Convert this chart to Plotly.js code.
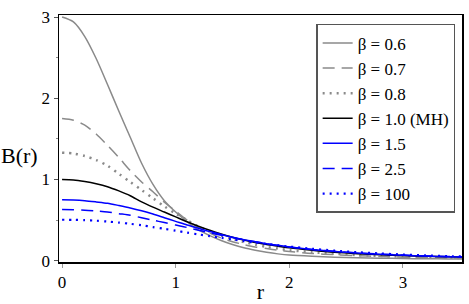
<!DOCTYPE html>
<html>
<head>
<meta charset="utf-8">
<script src="https://cdn.plot.ly/plotly-3.0.1.min.js"></script>
<style>html,body{margin:0;padding:0;background:#fff;}#chart{width:469px;height:304px;}</style>
</head>
<body>
<div id="chart"></div>
<script>
const r = [0, 0.1, 0.2, 0.3, 0.4, 0.5, 0.6, 0.7, 0.8, 0.9, 1.0, 1.1, 1.2, 1.3, 1.4, 1.5, 1.6, 1.7, 1.8, 1.9, 2.0, 2.2, 2.4, 2.6, 2.8, 3.0, 3.2, 3.4, 3.6];
const b06  = [3.0, 2.94, 2.76, 2.49, 2.17, 1.84, 1.52, 1.20, 0.94, 0.74, 0.60, 0.48, 0.38, 0.31, 0.25, 0.20, 0.16, 0.13, 0.105, 0.085, 0.07, 0.055, 0.045, 0.038, 0.032, 0.028, 0.025, 0.022, 0.02];
const b07  = [1.75, 1.73, 1.67, 1.56, 1.42, 1.27, 1.11, 0.97, 0.85, 0.72, 0.61, 0.50, 0.41, 0.34, 0.28, 0.235, 0.20, 0.17, 0.15, 0.13, 0.115, 0.09, 0.075, 0.063, 0.053, 0.045, 0.04, 0.035, 0.03];
const b08  = [1.33, 1.32, 1.29, 1.24, 1.17, 1.07, 0.97, 0.87, 0.77, 0.67, 0.58, 0.50, 0.42, 0.36, 0.31, 0.27, 0.23, 0.20, 0.17, 0.15, 0.13, 0.105, 0.085, 0.07, 0.06, 0.05, 0.043, 0.037, 0.032];
const b10  = [1.0, 0.995, 0.975, 0.948, 0.912, 0.86, 0.80, 0.725, 0.66, 0.60, 0.54, 0.48, 0.425, 0.375, 0.33, 0.29, 0.255, 0.225, 0.20, 0.18, 0.16, 0.13, 0.105, 0.088, 0.075, 0.064, 0.056, 0.049, 0.044];
const b15  = [0.75, 0.748, 0.74, 0.725, 0.708, 0.68, 0.65, 0.615, 0.575, 0.53, 0.485, 0.44, 0.40, 0.36, 0.325, 0.29, 0.26, 0.235, 0.21, 0.19, 0.17, 0.14, 0.115, 0.095, 0.08, 0.068, 0.058, 0.05, 0.045];
const b25  = [0.63, 0.628, 0.622, 0.612, 0.60, 0.58, 0.56, 0.53, 0.50, 0.47, 0.44, 0.41, 0.375, 0.345, 0.315, 0.285, 0.26, 0.235, 0.21, 0.19, 0.17, 0.14, 0.117, 0.097, 0.082, 0.07, 0.06, 0.052, 0.046];
const b100 = [0.505, 0.504, 0.50, 0.493, 0.483, 0.47, 0.455, 0.437, 0.415, 0.393, 0.37, 0.347, 0.325, 0.303, 0.282, 0.262, 0.242, 0.224, 0.207, 0.19, 0.175, 0.148, 0.125, 0.105, 0.09, 0.077, 0.066, 0.057, 0.05];
const names = ['β = 0.6', 'β = 0.7', 'β = 0.8', 'β = 1.0 (MH)', 'β = 1.5', 'β = 2.5', 'β = 100'];
const yTicks = [0, 1, 2, 3];
const xTicks = [0, 1, 2, 3];

const series = [b06, b07, b08, b10, b15, b25, b100];
const styles = [
  {color: '#8a8a8a', dash: 'solid', width: 1.5},
  {color: '#8a8a8a', dash: '12px,7px', width: 1.5},
  {color: '#8a8a8a', dash: '2px,5px', width: 2.5},
  {color: '#000000', dash: 'solid', width: 1.5},
  {color: '#0000ff', dash: 'solid', width: 1.5},
  {color: '#0000ff', dash: '12px,7px', width: 1.5},
  {color: '#0000ff', dash: '2px,5px', width: 2.2}
];
const traces = series.map((ys, i) => ({
  x: r, y: ys, type: 'scatter', mode: 'lines', name: names[i],
  line: {color: styles[i].color, dash: styles[i].dash, width: styles[i].width, shape: 'spline', smoothing: 0.8}
}));

const serif = 'Liberation Serif';
const layout = {
  width: 469, height: 304,
  margin: {l: 59, r: 7, t: 15, b: 42},
  paper_bgcolor: '#fff', plot_bgcolor: '#fff',
  font: {family: serif, size: 17, color: '#000'},
  showlegend: true,
  legend: {
    x: 0.983, y: 0.964, xanchor: 'right', yanchor: 'top',
    bordercolor: '#555', borderwidth: 1.5, bgcolor: '#fff',
    font: {family: serif, size: 17, color: '#000'},
    tracegroupgap: 0
  },
  xaxis: {
    range: [-0.027, 3.52], showgrid: false, zeroline: false,
    showline: true, linecolor: '#000', linewidth: 1.5, mirror: true,
    tickmode: 'array', tickvals: xTicks, ticktext: xTicks.map(String),
    ticks: 'outside', ticklen: 4, tickcolor: '#999',
    tickfont: {family: serif, size: 17, color: '#000'},
    title: {text: 'r', font: {family: serif, size: 22, color: '#000'}, standoff: 2}
  },
  yaxis: {
    range: [-0.015, 3.025], showgrid: false, zeroline: false,
    showline: true, linecolor: '#000', linewidth: 1.5, mirror: true,
    tickmode: 'array', tickvals: yTicks, ticktext: yTicks.map(String),
    ticks: 'outside', ticklen: 4, tickcolor: '#555',
    minor: {dtick: 0.5, ticks: 'outside', ticklen: 2, tickcolor: '#888'},
    tickfont: {family: serif, size: 17, color: '#000'}
  },
  annotations: [{
    text: 'B(r)', xref: 'paper', yref: 'paper', x: -0.148, y: 0.43,
    xanchor: 'left', yanchor: 'middle', showarrow: false,
    font: {family: serif, size: 22, color: '#000'}
  }]
};
Plotly.newPlot('chart', traces, layout, {displayModeBar: false, staticPlot: true});
</script>
</body>
</html>
